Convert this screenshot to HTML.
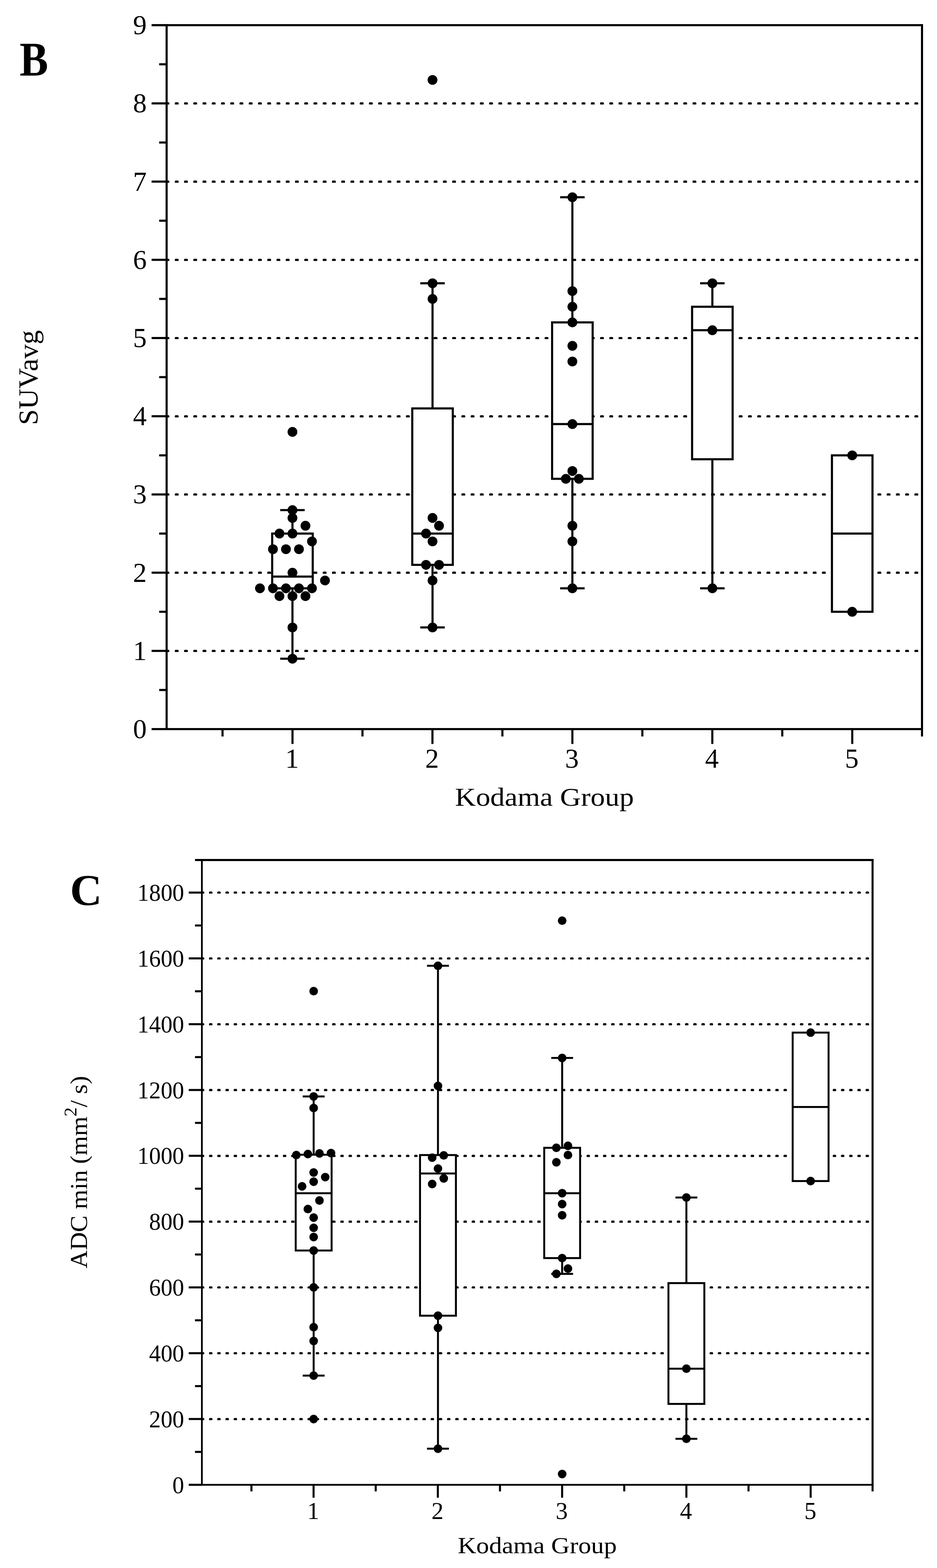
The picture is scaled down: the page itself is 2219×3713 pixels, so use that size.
<!DOCTYPE html>
<html lang="en">
<head>
<meta charset="utf-8">
<title>Kodama Group box plots: SUVavg and ADC min</title>
<style>
html,body{margin:0;padding:0;background:#fff;}
body{width:2219px;height:3713px;overflow:hidden;font-family:"Liberation Serif", serif;}
svg{display:block;}
</style>
</head>
<body>
<svg width="2219" height="3713" viewBox="0 0 2219 3713">
<rect x="0" y="0" width="2219" height="3713" fill="#fff"/>
<g id="chartB">
<g stroke="#000" fill="none">
<line x1="392.10" y1="1541.79" x2="2183.50" y2="1541.79" stroke-width="4.00" stroke-dasharray="9.000 12.894"/>
<line x1="393.10" y1="1541.29" x2="2183.50" y2="1541.29" stroke-width="5.00" stroke-dasharray="7.000 14.894"/>
<line x1="392.10" y1="1356.58" x2="2183.50" y2="1356.58" stroke-width="4.00" stroke-dasharray="9.000 12.894"/>
<line x1="393.10" y1="1356.08" x2="2183.50" y2="1356.08" stroke-width="5.00" stroke-dasharray="7.000 14.894"/>
<line x1="392.10" y1="1171.37" x2="2183.50" y2="1171.37" stroke-width="4.00" stroke-dasharray="9.000 12.894"/>
<line x1="393.10" y1="1170.87" x2="2183.50" y2="1170.87" stroke-width="5.00" stroke-dasharray="7.000 14.894"/>
<line x1="392.10" y1="986.16" x2="2183.50" y2="986.16" stroke-width="4.00" stroke-dasharray="9.000 12.894"/>
<line x1="393.10" y1="985.66" x2="2183.50" y2="985.66" stroke-width="5.00" stroke-dasharray="7.000 14.894"/>
<line x1="392.10" y1="800.95" x2="2183.50" y2="800.95" stroke-width="4.00" stroke-dasharray="9.000 12.894"/>
<line x1="393.10" y1="800.45" x2="2183.50" y2="800.45" stroke-width="5.00" stroke-dasharray="7.000 14.894"/>
<line x1="392.10" y1="615.74" x2="2183.50" y2="615.74" stroke-width="4.00" stroke-dasharray="9.000 12.894"/>
<line x1="393.10" y1="615.24" x2="2183.50" y2="615.24" stroke-width="5.00" stroke-dasharray="7.000 14.894"/>
<line x1="392.10" y1="430.53" x2="2183.50" y2="430.53" stroke-width="4.00" stroke-dasharray="9.000 12.894"/>
<line x1="393.10" y1="430.03" x2="2183.50" y2="430.03" stroke-width="5.00" stroke-dasharray="7.000 14.894"/>
<line x1="392.10" y1="245.32" x2="2183.50" y2="245.32" stroke-width="4.00" stroke-dasharray="9.000 12.894"/>
<line x1="393.10" y1="244.82" x2="2183.50" y2="244.82" stroke-width="5.00" stroke-dasharray="7.000 14.894"/>
</g>
<rect x="392.10" y="57.10" width="5.00" height="1671.90" fill="#000"/>
<rect x="2181.00" y="57.10" width="5.00" height="1686.90" fill="#000"/>
<rect x="359.00" y="57.10" width="1827.00" height="5.00" fill="#000"/>
<rect x="359.00" y="1724.00" width="1827.00" height="5.00" fill="#000"/>
<rect x="359.00" y="1724.00" width="35.60" height="5.00" fill="#000"/>
<rect x="359.00" y="1538.79" width="35.60" height="5.00" fill="#000"/>
<rect x="359.00" y="1353.58" width="35.60" height="5.00" fill="#000"/>
<rect x="359.00" y="1168.37" width="35.60" height="5.00" fill="#000"/>
<rect x="359.00" y="983.16" width="35.60" height="5.00" fill="#000"/>
<rect x="359.00" y="797.95" width="35.60" height="5.00" fill="#000"/>
<rect x="359.00" y="612.74" width="35.60" height="5.00" fill="#000"/>
<rect x="359.00" y="427.53" width="35.60" height="5.00" fill="#000"/>
<rect x="359.00" y="242.32" width="35.60" height="5.00" fill="#000"/>
<rect x="359.00" y="57.11" width="35.60" height="5.00" fill="#000"/>
<rect x="377.00" y="1631.39" width="17.60" height="5.00" fill="#000"/>
<rect x="377.00" y="1446.18" width="17.60" height="5.00" fill="#000"/>
<rect x="377.00" y="1260.97" width="17.60" height="5.00" fill="#000"/>
<rect x="377.00" y="1075.76" width="17.60" height="5.00" fill="#000"/>
<rect x="377.00" y="890.55" width="17.60" height="5.00" fill="#000"/>
<rect x="377.00" y="705.34" width="17.60" height="5.00" fill="#000"/>
<rect x="377.00" y="520.13" width="17.60" height="5.00" fill="#000"/>
<rect x="377.00" y="334.92" width="17.60" height="5.00" fill="#000"/>
<rect x="377.00" y="149.71" width="17.60" height="5.00" fill="#000"/>
<rect x="690.20" y="1726.50" width="5.00" height="35.20" fill="#000"/>
<rect x="1021.60" y="1726.50" width="5.00" height="35.20" fill="#000"/>
<rect x="1353.00" y="1726.50" width="5.00" height="35.20" fill="#000"/>
<rect x="1684.40" y="1726.50" width="5.00" height="35.20" fill="#000"/>
<rect x="2015.80" y="1726.50" width="5.00" height="35.20" fill="#000"/>
<rect x="524.50" y="1726.50" width="5.00" height="17.50" fill="#000"/>
<rect x="855.90" y="1726.50" width="5.00" height="17.50" fill="#000"/>
<rect x="1187.30" y="1726.50" width="5.00" height="17.50" fill="#000"/>
<rect x="1518.70" y="1726.50" width="5.00" height="17.50" fill="#000"/>
<rect x="1850.10" y="1726.50" width="5.00" height="17.50" fill="#000"/>
<rect x="690.10" y="1207.91" width="5.00" height="55.56" fill="#000"/>
<rect x="690.10" y="1393.12" width="5.00" height="166.69" fill="#000"/>
<rect x="663.60" y="1205.41" width="58.00" height="5.00" fill="#000"/>
<rect x="663.60" y="1557.31" width="58.00" height="5.00" fill="#000"/>
<rect x="644.60" y="1263.47" width="96.00" height="129.65" fill="#fff" stroke="#000" stroke-width="5"/>
<rect x="644.60" y="1362.84" width="96.00" height="5.00" fill="#000"/>
<rect x="1021.80" y="670.80" width="5.00" height="296.34" fill="#000"/>
<rect x="1021.80" y="1337.56" width="5.00" height="148.17" fill="#000"/>
<rect x="995.30" y="668.30" width="58.00" height="5.00" fill="#000"/>
<rect x="995.30" y="1483.23" width="58.00" height="5.00" fill="#000"/>
<rect x="976.30" y="967.14" width="96.00" height="370.42" fill="#fff" stroke="#000" stroke-width="5"/>
<rect x="976.30" y="1260.97" width="96.00" height="5.00" fill="#000"/>
<rect x="1353.00" y="467.07" width="5.00" height="296.34" fill="#000"/>
<rect x="1353.00" y="1133.83" width="5.00" height="259.29" fill="#000"/>
<rect x="1326.50" y="464.57" width="58.00" height="5.00" fill="#000"/>
<rect x="1326.50" y="1390.62" width="58.00" height="5.00" fill="#000"/>
<rect x="1307.50" y="763.41" width="96.00" height="370.42" fill="#fff" stroke="#000" stroke-width="5"/>
<rect x="1307.50" y="1001.68" width="96.00" height="5.00" fill="#000"/>
<rect x="1684.50" y="670.80" width="5.00" height="55.56" fill="#000"/>
<rect x="1684.50" y="1087.53" width="5.00" height="305.60" fill="#000"/>
<rect x="1658.00" y="668.30" width="58.00" height="5.00" fill="#000"/>
<rect x="1658.00" y="1390.62" width="58.00" height="5.00" fill="#000"/>
<rect x="1639.00" y="726.37" width="96.00" height="361.16" fill="#fff" stroke="#000" stroke-width="5"/>
<rect x="1639.00" y="779.43" width="96.00" height="5.00" fill="#000"/>
<rect x="1970.20" y="1078.26" width="96.00" height="370.42" fill="#fff" stroke="#000" stroke-width="5"/>
<rect x="1970.20" y="1260.97" width="96.00" height="5.00" fill="#000"/>
<g fill="#000">
<circle cx="692.60" cy="1022.70" r="11.6"/>
<circle cx="692.60" cy="1207.91" r="11.6"/>
<circle cx="692.60" cy="1226.43" r="11.6"/>
<circle cx="723.40" cy="1244.95" r="11.6"/>
<circle cx="661.80" cy="1263.47" r="11.6"/>
<circle cx="692.60" cy="1263.47" r="11.6"/>
<circle cx="738.80" cy="1282.00" r="11.6"/>
<circle cx="646.40" cy="1300.52" r="11.6"/>
<circle cx="677.20" cy="1300.52" r="11.6"/>
<circle cx="708.00" cy="1300.52" r="11.6"/>
<circle cx="692.60" cy="1356.08" r="11.6"/>
<circle cx="769.60" cy="1374.60" r="11.6"/>
<circle cx="615.60" cy="1393.12" r="11.6"/>
<circle cx="646.40" cy="1393.12" r="11.6"/>
<circle cx="677.20" cy="1393.12" r="11.6"/>
<circle cx="708.00" cy="1393.12" r="11.6"/>
<circle cx="738.80" cy="1393.12" r="11.6"/>
<circle cx="661.80" cy="1411.64" r="11.6"/>
<circle cx="692.60" cy="1411.64" r="11.6"/>
<circle cx="723.40" cy="1411.64" r="11.6"/>
<circle cx="692.60" cy="1485.73" r="11.6"/>
<circle cx="692.60" cy="1559.81" r="11.6"/>
<circle cx="1024.30" cy="189.26" r="11.6"/>
<circle cx="1024.30" cy="670.80" r="11.6"/>
<circle cx="1024.30" cy="707.84" r="11.6"/>
<circle cx="1024.30" cy="1226.43" r="11.6"/>
<circle cx="1039.70" cy="1244.95" r="11.6"/>
<circle cx="1008.90" cy="1263.47" r="11.6"/>
<circle cx="1024.30" cy="1282.00" r="11.6"/>
<circle cx="1008.90" cy="1337.56" r="11.6"/>
<circle cx="1039.70" cy="1337.56" r="11.6"/>
<circle cx="1024.30" cy="1374.60" r="11.6"/>
<circle cx="1024.30" cy="1485.73" r="11.6"/>
<circle cx="1355.50" cy="467.07" r="11.6"/>
<circle cx="1355.50" cy="689.32" r="11.6"/>
<circle cx="1355.50" cy="726.37" r="11.6"/>
<circle cx="1355.50" cy="763.41" r="11.6"/>
<circle cx="1355.50" cy="818.97" r="11.6"/>
<circle cx="1355.50" cy="856.01" r="11.6"/>
<circle cx="1355.50" cy="1004.18" r="11.6"/>
<circle cx="1355.50" cy="1115.31" r="11.6"/>
<circle cx="1340.10" cy="1133.83" r="11.6"/>
<circle cx="1370.90" cy="1133.83" r="11.6"/>
<circle cx="1355.50" cy="1244.95" r="11.6"/>
<circle cx="1355.50" cy="1282.00" r="11.6"/>
<circle cx="1355.50" cy="1393.12" r="11.6"/>
<circle cx="1687.00" cy="670.80" r="11.6"/>
<circle cx="1687.00" cy="781.93" r="11.6"/>
<circle cx="1687.00" cy="1393.12" r="11.6"/>
<circle cx="2018.20" cy="1078.26" r="11.6"/>
<circle cx="2018.20" cy="1448.68" r="11.6"/>
</g>
<g font-family='"Liberation Serif", serif' font-size="64.8" fill="#000">
<text transform="translate(347.30,1748.10) scale(1,1)" text-anchor="end">0</text>
<text transform="translate(347.30,1562.89) scale(1,1)" text-anchor="end">1</text>
<text transform="translate(347.30,1377.68) scale(1,1)" text-anchor="end">2</text>
<text transform="translate(347.30,1192.47) scale(1,1)" text-anchor="end">3</text>
<text transform="translate(347.30,1007.26) scale(1,1)" text-anchor="end">4</text>
<text transform="translate(347.30,822.05) scale(1,1)" text-anchor="end">5</text>
<text transform="translate(347.30,636.84) scale(1,1)" text-anchor="end">6</text>
<text transform="translate(347.30,451.63) scale(1,1)" text-anchor="end">7</text>
<text transform="translate(347.30,266.42) scale(1,1)" text-anchor="end">8</text>
<text transform="translate(347.30,81.21) scale(1,1)" text-anchor="end">9</text>
<text x="691.70" y="1818.00" text-anchor="middle">1</text>
<text x="1023.10" y="1818.00" text-anchor="middle">2</text>
<text x="1354.50" y="1818.00" text-anchor="middle">3</text>
<text x="1685.90" y="1818.00" text-anchor="middle">4</text>
<text x="2017.30" y="1818.00" text-anchor="middle">5</text>
</g>
</g>
<g id="chartC">
<g stroke="#000" fill="none">
<line x1="475.66" y1="3360.68" x2="2066.40" y2="3360.68" stroke-width="4.00" stroke-dasharray="8.000 11.435"/>
<line x1="476.66" y1="3360.18" x2="2066.40" y2="3360.18" stroke-width="5.00" stroke-dasharray="6.000 13.435"/>
<line x1="475.66" y1="3204.86" x2="2066.40" y2="3204.86" stroke-width="4.00" stroke-dasharray="8.000 11.435"/>
<line x1="476.66" y1="3204.36" x2="2066.40" y2="3204.36" stroke-width="5.00" stroke-dasharray="6.000 13.435"/>
<line x1="475.66" y1="3049.04" x2="2066.40" y2="3049.04" stroke-width="4.00" stroke-dasharray="8.000 11.435"/>
<line x1="476.66" y1="3048.54" x2="2066.40" y2="3048.54" stroke-width="5.00" stroke-dasharray="6.000 13.435"/>
<line x1="475.66" y1="2893.22" x2="2066.40" y2="2893.22" stroke-width="4.00" stroke-dasharray="8.000 11.435"/>
<line x1="476.66" y1="2892.72" x2="2066.40" y2="2892.72" stroke-width="5.00" stroke-dasharray="6.000 13.435"/>
<line x1="475.66" y1="2737.40" x2="2066.40" y2="2737.40" stroke-width="4.00" stroke-dasharray="8.000 11.435"/>
<line x1="476.66" y1="2736.90" x2="2066.40" y2="2736.90" stroke-width="5.00" stroke-dasharray="6.000 13.435"/>
<line x1="475.66" y1="2581.58" x2="2066.40" y2="2581.58" stroke-width="4.00" stroke-dasharray="8.000 11.435"/>
<line x1="476.66" y1="2581.08" x2="2066.40" y2="2581.08" stroke-width="5.00" stroke-dasharray="6.000 13.435"/>
<line x1="475.66" y1="2425.76" x2="2066.40" y2="2425.76" stroke-width="4.00" stroke-dasharray="8.000 11.435"/>
<line x1="476.66" y1="2425.26" x2="2066.40" y2="2425.26" stroke-width="5.00" stroke-dasharray="6.000 13.435"/>
<line x1="475.66" y1="2269.94" x2="2066.40" y2="2269.94" stroke-width="4.00" stroke-dasharray="8.000 11.435"/>
<line x1="476.66" y1="2269.44" x2="2066.40" y2="2269.44" stroke-width="5.00" stroke-dasharray="6.000 13.435"/>
<line x1="475.66" y1="2114.12" x2="2066.40" y2="2114.12" stroke-width="4.00" stroke-dasharray="8.000 11.435"/>
<line x1="476.66" y1="2113.62" x2="2066.40" y2="2113.62" stroke-width="5.00" stroke-dasharray="6.000 13.435"/>
</g>
<rect x="476.05" y="2034.00" width="4.10" height="1484.10" fill="#000"/>
<rect x="2064.00" y="2034.00" width="4.80" height="1497.60" fill="#000"/>
<rect x="461.80" y="2034.00" width="1607.00" height="5.00" fill="#000"/>
<rect x="446.90" y="3513.90" width="1621.90" height="4.20" fill="#000"/>
<rect x="446.90" y="3513.60" width="31.20" height="4.80" fill="#000"/>
<rect x="446.90" y="3357.78" width="31.20" height="4.80" fill="#000"/>
<rect x="446.90" y="3201.96" width="31.20" height="4.80" fill="#000"/>
<rect x="446.90" y="3046.14" width="31.20" height="4.80" fill="#000"/>
<rect x="446.90" y="2890.32" width="31.20" height="4.80" fill="#000"/>
<rect x="446.90" y="2734.50" width="31.20" height="4.80" fill="#000"/>
<rect x="446.90" y="2578.68" width="31.20" height="4.80" fill="#000"/>
<rect x="446.90" y="2422.86" width="31.20" height="4.80" fill="#000"/>
<rect x="446.90" y="2267.04" width="31.20" height="4.80" fill="#000"/>
<rect x="446.90" y="2111.22" width="31.20" height="4.80" fill="#000"/>
<rect x="461.80" y="3435.69" width="16.30" height="4.80" fill="#000"/>
<rect x="461.80" y="3279.87" width="16.30" height="4.80" fill="#000"/>
<rect x="461.80" y="3124.05" width="16.30" height="4.80" fill="#000"/>
<rect x="461.80" y="2968.23" width="16.30" height="4.80" fill="#000"/>
<rect x="461.80" y="2812.41" width="16.30" height="4.80" fill="#000"/>
<rect x="461.80" y="2656.59" width="16.30" height="4.80" fill="#000"/>
<rect x="461.80" y="2500.77" width="16.30" height="4.80" fill="#000"/>
<rect x="461.80" y="2344.95" width="16.30" height="4.80" fill="#000"/>
<rect x="461.80" y="2189.13" width="16.30" height="4.80" fill="#000"/>
<rect x="740.20" y="3516.00" width="4.80" height="30.60" fill="#000"/>
<rect x="1034.50" y="3516.00" width="4.80" height="30.60" fill="#000"/>
<rect x="1328.80" y="3516.00" width="4.80" height="30.60" fill="#000"/>
<rect x="1623.10" y="3516.00" width="4.80" height="30.60" fill="#000"/>
<rect x="1917.40" y="3516.00" width="4.80" height="30.60" fill="#000"/>
<rect x="593.05" y="3516.00" width="4.80" height="15.60" fill="#000"/>
<rect x="887.35" y="3516.00" width="4.80" height="15.60" fill="#000"/>
<rect x="1181.65" y="3516.00" width="4.80" height="15.60" fill="#000"/>
<rect x="1475.95" y="3516.00" width="4.80" height="15.60" fill="#000"/>
<rect x="1770.25" y="3516.00" width="4.80" height="15.60" fill="#000"/>
<rect x="740.50" y="2596.39" width="4.60" height="137.97" fill="#000"/>
<rect x="740.50" y="2961.20" width="4.60" height="296.21" fill="#000"/>
<rect x="716.90" y="2594.09" width="51.80" height="4.60" fill="#000"/>
<rect x="716.90" y="3255.11" width="51.80" height="4.60" fill="#000"/>
<rect x="700.30" y="2734.36" width="85.00" height="226.83" fill="#fff" stroke="#000" stroke-width="4.6"/>
<rect x="700.30" y="2823.26" width="85.00" height="4.60" fill="#000"/>
<rect x="1034.90" y="2286.93" width="4.60" height="448.21" fill="#000"/>
<rect x="1034.90" y="3115.54" width="4.60" height="314.92" fill="#000"/>
<rect x="1011.30" y="2284.63" width="51.80" height="4.60" fill="#000"/>
<rect x="1011.30" y="3428.15" width="51.80" height="4.60" fill="#000"/>
<rect x="994.70" y="2735.14" width="85.00" height="380.40" fill="#fff" stroke="#000" stroke-width="4.6"/>
<rect x="994.70" y="2776.49" width="85.00" height="4.60" fill="#000"/>
<rect x="1329.00" y="2505.19" width="4.60" height="212.80" fill="#000"/>
<rect x="1329.00" y="2979.12" width="4.60" height="37.42" fill="#000"/>
<rect x="1305.40" y="2502.89" width="51.80" height="4.60" fill="#000"/>
<rect x="1305.40" y="3014.24" width="51.80" height="4.60" fill="#000"/>
<rect x="1288.80" y="2717.99" width="85.00" height="261.13" fill="#fff" stroke="#000" stroke-width="4.6"/>
<rect x="1288.80" y="2823.26" width="85.00" height="4.60" fill="#000"/>
<rect x="1623.20" y="2835.70" width="4.60" height="202.67" fill="#000"/>
<rect x="1623.20" y="3324.44" width="4.60" height="82.63" fill="#000"/>
<rect x="1599.60" y="2833.40" width="51.80" height="4.60" fill="#000"/>
<rect x="1599.60" y="3404.77" width="51.80" height="4.60" fill="#000"/>
<rect x="1583.00" y="3038.37" width="85.00" height="286.08" fill="#fff" stroke="#000" stroke-width="4.6"/>
<rect x="1583.00" y="3238.74" width="85.00" height="4.60" fill="#000"/>
<rect x="1877.20" y="2445.17" width="85.00" height="351.55" fill="#fff" stroke="#000" stroke-width="4.6"/>
<rect x="1877.20" y="2619.03" width="85.00" height="4.60" fill="#000"/>
<g fill="#000">
<circle cx="742.80" cy="2346.95" r="10.2"/>
<circle cx="742.80" cy="2596.39" r="10.2"/>
<circle cx="742.80" cy="2623.67" r="10.2"/>
<circle cx="701.70" cy="2735.14" r="10.2"/>
<circle cx="729.10" cy="2732.80" r="10.2"/>
<circle cx="756.50" cy="2731.24" r="10.2"/>
<circle cx="783.90" cy="2730.46" r="10.2"/>
<circle cx="742.80" cy="2776.45" r="10.2"/>
<circle cx="770.20" cy="2787.37" r="10.2"/>
<circle cx="742.80" cy="2798.28" r="10.2"/>
<circle cx="715.40" cy="2809.19" r="10.2"/>
<circle cx="756.50" cy="2842.71" r="10.2"/>
<circle cx="729.10" cy="2862.98" r="10.2"/>
<circle cx="742.80" cy="2883.25" r="10.2"/>
<circle cx="742.80" cy="2907.41" r="10.2"/>
<circle cx="742.80" cy="2929.24" r="10.2"/>
<circle cx="742.80" cy="2961.20" r="10.2"/>
<circle cx="742.80" cy="3048.50" r="10.2"/>
<circle cx="742.80" cy="3142.82" r="10.2"/>
<circle cx="742.80" cy="3175.56" r="10.2"/>
<circle cx="742.80" cy="3257.41" r="10.2"/>
<circle cx="742.80" cy="3360.30" r="10.2"/>
<circle cx="1037.20" cy="2286.93" r="10.2"/>
<circle cx="1037.20" cy="2571.45" r="10.2"/>
<circle cx="1023.50" cy="2741.38" r="10.2"/>
<circle cx="1050.90" cy="2735.92" r="10.2"/>
<circle cx="1037.20" cy="2767.10" r="10.2"/>
<circle cx="1050.90" cy="2790.49" r="10.2"/>
<circle cx="1023.50" cy="2803.74" r="10.2"/>
<circle cx="1037.20" cy="3115.54" r="10.2"/>
<circle cx="1037.20" cy="3144.38" r="10.2"/>
<circle cx="1037.20" cy="3430.45" r="10.2"/>
<circle cx="1331.30" cy="2180.14" r="10.2"/>
<circle cx="1331.30" cy="2505.19" r="10.2"/>
<circle cx="1317.60" cy="2717.99" r="10.2"/>
<circle cx="1345.00" cy="2713.31" r="10.2"/>
<circle cx="1345.00" cy="2735.14" r="10.2"/>
<circle cx="1317.60" cy="2752.29" r="10.2"/>
<circle cx="1331.30" cy="2825.56" r="10.2"/>
<circle cx="1331.30" cy="2851.29" r="10.2"/>
<circle cx="1331.30" cy="2877.79" r="10.2"/>
<circle cx="1331.30" cy="2979.12" r="10.2"/>
<circle cx="1345.00" cy="3004.07" r="10.2"/>
<circle cx="1317.60" cy="3016.54" r="10.2"/>
<circle cx="1331.30" cy="3490.48" r="10.2"/>
<circle cx="1625.50" cy="2835.70" r="10.2"/>
<circle cx="1625.50" cy="3241.04" r="10.2"/>
<circle cx="1625.50" cy="3407.07" r="10.2"/>
<circle cx="1919.70" cy="2445.17" r="10.2"/>
<circle cx="1919.70" cy="2796.72" r="10.2"/>
</g>
<g font-family='"Liberation Serif", serif' font-size="57.3" fill="#000">
<text transform="translate(436.10,3535.50) scale(0.968,1)" text-anchor="end">0</text>
<text transform="translate(436.10,3379.68) scale(0.968,1)" text-anchor="end">200</text>
<text transform="translate(436.10,3223.86) scale(0.968,1)" text-anchor="end">400</text>
<text transform="translate(436.10,3068.04) scale(0.968,1)" text-anchor="end">600</text>
<text transform="translate(436.10,2912.22) scale(0.968,1)" text-anchor="end">800</text>
<text transform="translate(436.10,2756.40) scale(0.968,1)" text-anchor="end">1000</text>
<text transform="translate(436.10,2600.58) scale(0.968,1)" text-anchor="end">1200</text>
<text transform="translate(436.10,2444.76) scale(0.968,1)" text-anchor="end">1400</text>
<text transform="translate(436.10,2288.94) scale(0.968,1)" text-anchor="end">1600</text>
<text transform="translate(436.10,2133.12) scale(0.968,1)" text-anchor="end">1800</text>
<text x="741.80" y="3596.90" text-anchor="middle">1</text>
<text x="1036.10" y="3596.90" text-anchor="middle">2</text>
<text x="1330.40" y="3596.90" text-anchor="middle">3</text>
<text x="1624.70" y="3596.90" text-anchor="middle">4</text>
<text x="1919.00" y="3596.90" text-anchor="middle">5</text>
</g>
</g>
<g font-family='"Liberation Serif", serif' fill="#000">
<text id="lblB" transform="translate(46.4,179.1) scale(0.897,1.016)" font-size="113" font-weight="bold">B</text>
<text id="lblC" transform="translate(165.8,2143.4) scale(0.99,0.985)" font-size="106" font-weight="bold">C</text>
<text id="xlB" transform="translate(1289.3,1908.3) scale(1.1125,1.005)" font-size="61.5" text-anchor="middle">Kodama Group</text>
<text id="xlC" transform="translate(1272.3,3677.6) scale(1.1065,1.005)" font-size="55" text-anchor="middle">Kodama Group</text>
<text id="ylB" transform="translate(88.7,894.2) rotate(-90) scale(1.022,1)" font-size="66" text-anchor="middle">SUVavg</text>
<text id="ylC" transform="translate(206,2775.6) rotate(-90) scale(1.042,1)" font-size="57" text-anchor="middle">ADC min (mm<tspan font-size="42" dy="-25">2</tspan><tspan dy="25">/ s)</tspan></text>
</g>
</svg>
</body>
</html>
